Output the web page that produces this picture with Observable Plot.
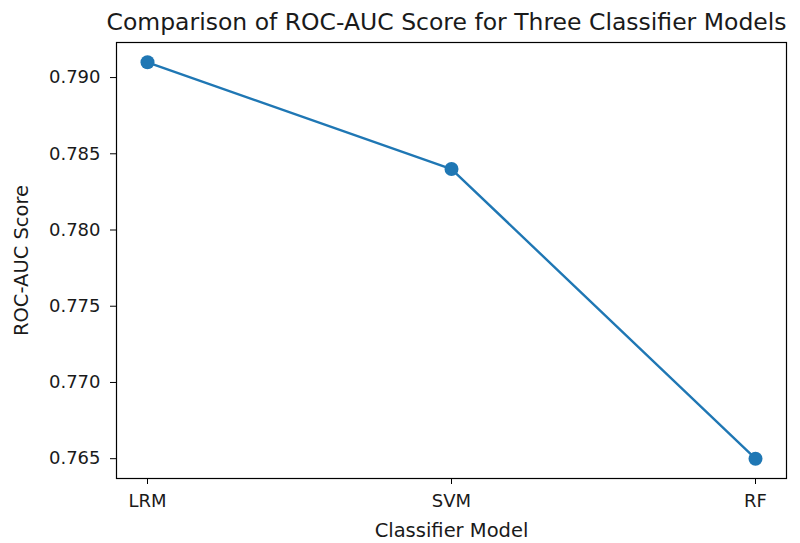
<!DOCTYPE html>
<html>
<head>
<meta charset="utf-8">
<script src="https://cdn.jsdelivr.net/npm/d3@7"></script>
<script src="https://cdn.jsdelivr.net/npm/@observablehq/plot@0.6"></script>
<style>
  html, body { margin: 0; padding: 0; background: #fff; }
</style>
</head>
<body>
<div id="chart"></div>
<script>
const models = ["LRM", "SVM", "RF"];
const scores = [0.791, 0.784, 0.765];
const yTicks = [0.765, 0.770, 0.775, 0.780, 0.785, 0.790];
const titleText = "Comparison of ROC-AUC Score for Three Classifier Models";
const xLabel = "Classifier Model";
const yLabel = "ROC-AUC Score";

const data = models.map((m, i) => ({model: m, score: scores[i]}));
const color = "#1f77b4";
const ink = "#1a1a1a";

const chart = Plot.plot({
  width: 800,
  height: 543,
  marginLeft: 116,
  marginRight: 14,
  marginTop: 42,
  marginBottom: 65,
  style: {fontFamily: "DejaVu Sans", fontSize: "18px", color: ink, background: "#fff"},
  x: {type: "point", domain: models, padding: 0.1},
  y: {domain: [0.7637, 0.7923]},
  marks: [
    Plot.frame({stroke: "#000", strokeWidth: 1.2}),
    Plot.axisY({ticks: yTicks, tickFormat: d3.format(".3f"), tickSize: 6, tickPadding: 10, label: null, fontSize: 18, stroke: "#000"}),
    Plot.axisX({tickSize: 6, tickPadding: 10, label: null, fontSize: 18, stroke: "#000"}),
    Plot.line(data, {x: "model", y: "score", stroke: color, strokeWidth: 2.4}),
    Plot.dot(data, {x: "model", y: "score", r: 7, fill: color}),
    Plot.text([titleText], {frameAnchor: "top", dx: -5, dy: -20, lineAnchor: "middle", textAnchor: "middle", text: d => d, fontSize: 23.5, fill: ink}),
    Plot.text([xLabel], {frameAnchor: "bottom", dy: 52, lineAnchor: "middle", textAnchor: "middle", text: d => d, fontSize: 19.5, fill: ink}),
    Plot.text([yLabel], {frameAnchor: "left", dx: -95, rotate: -90, lineAnchor: "middle", textAnchor: "middle", text: d => d, fontSize: 19.5, fill: ink})
  ]
});
document.getElementById("chart").appendChild(chart);
</script>
</body>
</html>
